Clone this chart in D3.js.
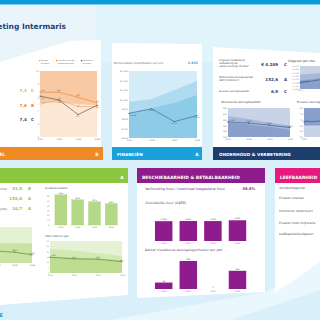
<!DOCTYPE html>
<html>
<head>
<meta charset="utf-8">
<script src="https://cdn.jsdelivr.net/npm/d3@7"></script>
<style>
    html, body { margin: 0; padding: 0; background: #d9eff9; overflow: hidden; }
</style>
</head>
<body>
<div id="chart"></div>
<script>
const years = ["2021", "2022", "2023", "2024"];

// huurdersoordeel
const hoNieuwe = [7.5, 7.8, 7.3, 7.3];
const hoReparatie = [8.4, 8.4, 8.0, 7.6];
const hoVertrokken = [8.1, 7.8, 6.7, 7.4];
const hoBand = [7.6, 7.6, 7.5, 7.4];
const hoScores = ["7,3", "7,6", "7,4"];
const hoLetters = ["C", "B", "C"];
const hoLegend = [["Nieuwe", "huurders"], ["Huurders met een", "reparatieverzoek"], ["Vertrokken", "huurders"]];
const hoTicks = [5, 6, 7, 8, 9, 10];

// financien
const finLasten = [858, 905, 771, 835];
const finBandHigh = [976, 1007, 1101, 1195];
const finBandLow = [861, 913, 966, 1049];
const finTicks = [600, 700, 800, 900, 1000, 1100, 1200, 1300];

// onderhoud & verbetering
const ovUitgaven = [1950, 2500, 3300, 4209];
const ovUitgHigh = [3200, 3500, 3800, 4100];
const ovUitgLow = [2300, 2700, 3100, 3600];
const ovUitgTicks = [1000, 1500, 2000, 2500, 3000, 3500, 4000, 4500];
const ovTech = [172, 168, 161, 152.6];
const ovTechHigh = [192, 182, 170, 160];
const ovTechLow = [170, 163, 155, 145];
const ovTechTicks = [120, 140, 160, 180, 200, 220];
const ovErvaren = [6.8, 6.9, 7.0, 6.9];
const ovErvBand = [6.5, 6.5, 6.6, 6.6];
const ovErvTicks = [5.5, 6, 6.5, 7, 7.5, 8];
const ovKpiLabels = [["Uitgaven onderhoud,", "verbetering en", "verduurzaming (€/vhe)*"], ["Technische woningkwaliteit", "(EPV) [kWh/m2]"], ["Ervaren woningkwaliteit"]];
const ovScores = ["€ 4.209", "152,6", "6,9"];
const ovLetters = ["C", "A", "C"];

// duurzaamheid
const duKpiLabels = ["Isolatieprestatie [kWh/m2]", "Energieprestatie [kWh/m2]", "CO2-uitstoot gas [kg/m2]"];
const duScores = ["31,9", "152,6", "10,7"];
const duLetters = ["B", "A", "A"];
const duEpv = [167, 163, 160, 152.6];
const duEpvBand = [188, 186, 185, 184];
const duIsolatie = [62.4, 52.1, 47.9, 44.3];
const duIsoTicks = [0, 10, 20, 30, 40, 50, 60];
const duCo2 = [14.8, 13.3, 12.9, 10.7];
const duCo2High = [22.5, 21, 18.5, 16];
const duCo2Low = [15.5, 14.5, 13.5, 12];
const duCo2Ticks = [0, 5, 10, 15, 20, 25, 30];

// beschikbaarheid & betaalbaarheid
const bbHuur = [576, 580, 579, 602];
const bbNieuwbouw = [58, 252, 0, 164];

// leefbaarheid
const lbItems = ["Veiligheidsgevoel", "Ervaren overlast", "Schone en nette buurt", "Ervaren inzet corporatie", "Leefbaarheidsuitgaven"];

const F = "DejaVu Sans, Verdana, sans-serif";
const nl = d3.formatLocale({decimal: ",", thousands: ".", grouping: [3], currency: ["€ ", ""]});
const fmt1 = nl.format(",.1f");
const fmtEur = nl.format("$,.0f");
const fmtInt = nl.format(",.0f");

const svg = d3.select("#chart").append("svg")
    .attr("width", 320)
    .attr("height", 320)
    .attr("font-family", F);

const txt = (x, y, s, o = {}) => svg.append("text")
    .attr("x", x).attr("y", y)
    .attr("font-size", o.fs || 3)
    .attr("fill", o.fill || "#555")
    .attr("font-weight", o.bold ? "bold" : null)
    .attr("text-anchor", o.anchor || "start")
    .text(s);

const poly = (pts, fill) => svg.append("polygon")
    .attr("points", pts.map((p) => p.join(",")).join(" "))
    .attr("fill", fill);

const styleAxis = (a, fs) => {
    a.select(".domain").remove();
    a.attr("font-family", F);
    a.selectAll("text").attr("font-size", fs).attr("fill", "#777");
};

const bandChart = (o) => {
    const g = svg.append("g");
    const x = d3.scalePoint().domain(years).range([o.x0, o.x1]);
    const y = d3.scaleLinear().domain(o.domain).range([o.y1, o.y0]);
    const xi = (d, i) => x(years[i]);
    o.bands.forEach((b) => {
        g.append("path").datum(b.values)
            .attr("fill", b.color)
            .attr("d", d3.area().x(xi).y0(o.y1).y1((d) => y(d)));
    });
    const fs = o.fs || 2.1;
    const ya = g.append("g")
        .attr("transform", `translate(${o.x0 - 1},0)`)
        .call(d3.axisLeft(y).tickValues(o.ticks).tickFormat(o.tickFmt).tickSize(0).tickPadding(0));
    styleAxis(ya, fs);
    const xa = g.append("g")
        .attr("transform", `translate(0,${o.y1})`)
        .call(d3.axisBottom(x).tickSize(0).tickPadding(1.2));
    styleAxis(xa, fs);
    o.lines.forEach((l) => {
        g.append("path").datum(l.values)
            .attr("fill", "none")
            .attr("stroke", l.color)
            .attr("stroke-width", 0.6)
            .attr("d", d3.line().x(xi).y((d) => y(d)));
        g.selectAll(null).data(l.values).join("circle")
            .attr("cx", xi).attr("cy", (d) => y(d)).attr("r", 0.6).attr("fill", l.color);
        if (l.fmt) {
            // first label is nudged inwards so it stays off the tick labels
            g.selectAll(null).data(l.values).join("text")
                .attr("x", (d, i) => xi(d, i) + (i === 0 ? 1.5 : 0))
                .attr("y", (d) => y(d) + (l.dy || -1))
                .attr("text-anchor", (d, i) => i === 0 ? "start" : "middle")
                .attr("font-size", 1.9)
                .attr("fill", "#444")
                .text(l.fmt);
        }
    });
    return g;
};

const barChart = (o) => {
    const g = svg.append("g");
    const x = d3.scaleBand().domain(years).range([o.x0, o.x1]).paddingInner(o.pad).paddingOuter(o.pad / 2);
    const y = d3.scaleLinear().domain(o.domain).range([o.y1, o.y0]);
    g.selectAll(null).data(o.values).join("rect")
        .attr("x", (d, i) => x(years[i]))
        .attr("y", (d) => y(d))
        .attr("width", x.bandwidth())
        .attr("height", (d) => o.y1 - y(d))
        .attr("fill", o.color)
        .attr("stroke", o.stroke || "none")
        .attr("stroke-width", 0.3);
    g.selectAll(null).data(o.values).join("text")
        .attr("x", (d, i) => x(years[i]) + x.bandwidth() / 2)
        .attr("y", (d) => y(d) - 0.9)
        .attr("text-anchor", "middle")
        .attr("font-size", 2)
        .attr("fill", "#444")
        .text(o.fmt);
    const xa = g.append("g")
        .attr("transform", `translate(0,${o.y1})`)
        .call(d3.axisBottom(x).tickSize(0).tickPadding(1.4));
    styleAxis(xa, 2);
    if (o.ticks) {
        const ya = g.append("g")
            .attr("transform", `translate(${o.x0 - 3},0)`)
            .call(d3.axisLeft(y).tickValues(o.ticks).tickFormat(d3.format("d")).tickSize(0).tickPadding(0));
        styleAxis(ya, 1.9);
    }
    return g;
};

// ---- background ----
svg.append("rect").attr("width", 320).attr("height", 320).attr("fill", "#d9eff9");
poly([[0, 5], [320, 5], [320, 62], [0, 62]], "#e1f3fb");
poly([[0, 5], [96, 5], [96, 40], [0, 62]], "#eaf5fb");
poly([[110, 320], [265, 292], [320, 262], [320, 290], [230, 320]], "#eaf7fc");
svg.append("rect").attr("width", 320).attr("height", 4).attr("fill", "#0a9bd8");
svg.append("rect").attr("y", 4).attr("width", 320).attr("height", 1).attr("fill", "#7ccdf0");
txt(66, 29, "Prestatiemeting Intermaris", {fs: 7.5, bold: true, fill: "#1f4275", anchor: "end"});
txt(3, 317, "RE", {fs: 5, bold: true, fill: "#1a9ad6", anchor: "end"});

// ---- huurdersoordeel ----
poly([[0, 62], [70, 41], [101, 40], [101, 147], [0, 147]], "#fff");
svg.append("rect").attr("x", 0).attr("y", 147).attr("width", 103).attr("height", 13).attr("fill", "#f08a24");
txt(5, 156, "HUURDERSOORDEEL", {fs: 4.4, bold: true, fill: "#fff", anchor: "end"});
txt(97, 156, "B", {fs: 4.4, bold: true, fill: "#fff", anchor: "middle"});
const hoColors = ["#eea46a", "#ef7d22", "#514640"];
hoScores.forEach((s, i) => {
    txt(27, 92 + i * 14.6, s, {fs: 4.2, bold: true, fill: hoColors[i], anchor: "end"});
    txt(31, 92 + i * 14.6, hoLetters[i], {fs: 4.2, bold: true, fill: hoColors[i]});
});
hoLegend.forEach((lines, i) => {
    const lx = [39, 56, 81][i];
    svg.append("rect").attr("x", lx).attr("y", 60).attr("width", 1.2).attr("height", 1.2).attr("fill", hoColors[i]);
    lines.forEach((t, j) => txt(lx + 1.8, 61.4 + j * 2.4, t, {fs: 1.9, fill: "#666"}));
});
bandChart({
    x0: 40, x1: 97, y0: 71, y1: 137, domain: [5, 10], ticks: hoTicks, tickFmt: d3.format("d"),
    bands: [{values: [10, 10, 10, 10], color: "#f9c9a3"}, {values: hoBand, color: "#fde7d5"}],
    lines: [
        {values: hoNieuwe, color: hoColors[0], fmt: fmt1},
        {values: hoReparatie, color: hoColors[1], fmt: fmt1},
        {values: hoVertrokken, color: hoColors[2], fmt: fmt1, dy: 2.6}
    ]
});

// ---- financien ----
poly([[112, 43], [202, 44], [202, 147], [112, 147]], "#fff");
svg.append("rect").attr("x", 112).attr("y", 147).attr("width", 90).attr("height", 13).attr("fill", "#1aa1dc");
txt(117, 156, "FINANCIËN", {fs: 4.2, bold: true, fill: "#fff"});
txt(197, 156, "A", {fs: 4.4, bold: true, fill: "#fff", anchor: "middle"});
txt(114, 64, "Beïnvloedbare bedrijfslasten per vhe", {fs: 2.7, fill: "#666"});
txt(198, 64, "€ 835", {fs: 3.2, bold: true, fill: "#1aa1dc", anchor: "end"});
bandChart({
    x0: 129, x1: 197, y0: 71, y1: 138, domain: [600, 1300], ticks: finTicks, tickFmt: fmtEur,
    bands: [{values: [1300, 1300, 1300, 1300], color: "#d4edf8"}, {values: finBandHigh, color: "#aedbef"}, {values: finBandLow, color: "#8ecbe7"}],
    lines: [{values: finLasten, color: "#2f5f9e", fmt: fmtEur, dy: 2.6}]
});

// ---- onderhoud & verbetering ----
poly([[213, 47], [320, 53], [320, 147], [213, 147]], "#fff");
svg.append("rect").attr("x", 213).attr("y", 147).attr("width", 107).attr("height", 13).attr("fill", "#1d3e6c");
txt(219, 156, "ONDERHOUD & VERBETERING", {fs: 4.3, bold: true, fill: "#fff"});
const ovRowY = [61, 78, 92.3];
ovKpiLabels.forEach((lines, i) => {
    lines.forEach((t, j) => txt(219, ovRowY[i] + j * 2.8, t, {fs: 2.5, fill: "#444"}));
    const vy = ovRowY[i] + (lines.length - 1) * 2.8 * 0.8 + 0.4;
    txt(278, vy, ovScores[i], {fs: 4, bold: true, fill: "#1d3e6c", anchor: "end"});
    txt(284, vy, ovLetters[i], {fs: 4, bold: true, fill: "#1d3e6c"});
});
txt(288, 62, "Uitgaven per vhe", {fs: 3.1, fill: "#444"});
bandChart({
    x0: 300, x1: 372, y0: 66, y1: 89, domain: [1000, 4500], ticks: ovUitgTicks, tickFmt: fmtEur, fs: 1.8,
    bands: [{values: [4500, 4500, 4500, 4500], color: "#c8d3e7"}, {values: ovUitgHigh, color: "#a8b9d8"}, {values: ovUitgLow, color: "#8aa0cb"}],
    lines: [{values: ovUitgaven, color: "#2c4f8a", fmt: fmtEur}]
});
txt(221, 103, "Technische woningkwaliteit", {fs: 2.9, fill: "#444"});
bandChart({
    x0: 228, x1: 290, y0: 108, y1: 137, domain: [120, 220], ticks: ovTechTicks, tickFmt: d3.format("d"),
    bands: [{values: [220, 220, 220, 220], color: "#c8d3e7"}, {values: ovTechHigh, color: "#a8b9d8"}, {values: ovTechLow, color: "#8aa0cb"}],
    lines: [{values: ovTech, color: "#2c4f8a", fmt: fmt1}]
});
txt(297, 103, "Ervaren woningkwaliteit", {fs: 2.9, fill: "#444"});
bandChart({
    x0: 304, x1: 368, y0: 108, y1: 137, domain: [5.5, 8], ticks: ovErvTicks, tickFmt: fmt1,
    bands: [{values: [8, 8, 8, 8], color: "#8aa0cb"}, {values: ovErvBand, color: "#c8d3e7"}],
    lines: [{values: ovErvaren, color: "#2c4f8a", fmt: fmt1}]
});

// ---- duurzaamheid ----
poly([[0, 183], [128, 183], [128, 295], [0, 305]], "#fff");
svg.append("rect").attr("x", 0).attr("y", 168).attr("width", 128).attr("height", 15).attr("fill", "#8dc63f");
txt(-2, 178.6, "DUURZAAMHEID", {fs: 4.4, bold: true, fill: "#fff", anchor: "end"});
txt(122, 178.6, "A", {fs: 4.4, bold: true, fill: "#fff", anchor: "middle"});
const duRowY = [190, 199.5, 209.5];
const duLabelEnd = [7, -1, 7];
duKpiLabels.forEach((t, i) => {
    txt(duLabelEnd[i], duRowY[i], t, {fs: 2.8, fill: "#555", anchor: "end"});
    txt(22, duRowY[i], duScores[i], {fs: 4, bold: true, fill: "#8dc63f", anchor: "end"});
    txt(28, duRowY[i], duLetters[i], {fs: 4, bold: true, fill: "#8dc63f"});
});
bandChart({
    x0: -20, x1: 32, y0: 227, y1: 263, domain: [130, 230], ticks: [], tickFmt: fmt1,
    bands: [{values: [230, 230, 230, 230], color: "#e4f1d2"}, {values: duEpvBand, color: "#c9e3a3"}],
    lines: [{values: duEpv, color: "#4f7d28", fmt: fmt1}]
});
txt(45, 189, "Isolatieprestatie", {fs: 2.8, fill: "#3d5a80"});
barChart({
    x0: 52.5, x1: 119.7, pad: 0.29, y0: 196, y1: 225, domain: [0, 60],
    values: duIsolatie, ticks: duIsoTicks, color: "#b5d886", stroke: "#9cc65c", fmt: fmt1
});
txt(45, 236.5, "CO2-uitstoot gas", {fs: 2.8, fill: "#3d5a80"});
bandChart({
    x0: 50, x1: 122, y0: 241, y1: 273, domain: [0, 30], ticks: duCo2Ticks, tickFmt: d3.format("d"), fs: 1.9,
    bands: [{values: [30, 30, 30, 30], color: "#e6f2d6"}, {values: duCo2High, color: "#d3e9b4"}, {values: duCo2Low, color: "#bfdd90"}],
    lines: [{values: duCo2, color: "#4f7d28", fmt: fmt1}]
});

// ---- beschikbaarheid & betaalbaarheid ----
poly([[137, 183], [265, 183], [265, 292], [137, 298]], "#fff");
svg.append("rect").attr("x", 137).attr("y", 168).attr("width", 128).attr("height", 15).attr("fill", "#8f1c8c");
txt(142, 178.6, "BESCHIKBAARHEID & BETAALBAARHEID", {fs: 4.4, bold: true, fill: "#fff"});
txt(145, 189.5, "Verhouding huur / maximaal toegestane huur", {fs: 3.5, fill: "#6b4d7d"});
txt(255, 189.5, "59,9%", {fs: 3.6, bold: true, fill: "#8f1c8c", anchor: "end"});
txt(145, 203.5, "Gemiddelde huur (DAEB)", {fs: 3.3, fill: "#6b4d7d"});
barChart({
    x0: 151.4, x1: 249.8, pad: 0.29, y0: 220, y1: 241, domain: [0, 610],
    values: bbHuur, color: "#8f1c8c", fmt: fmtEur
});
txt(145, 251, "Aantal nieuwbouw woongelegenheden per jaar", {fs: 3.3, fill: "#6b4d7d"});
barChart({
    x0: 151.4, x1: 249.8, pad: 0.29, y0: 261, y1: 289, domain: [0, 252],
    values: bbNieuwbouw, color: "#8f1c8c", fmt: fmtInt
});

// ---- leefbaarheid ----
poly([[275, 183], [320, 183], [320, 262], [275, 293]], "#fff");
svg.append("rect").attr("x", 275).attr("y", 168).attr("width", 45).attr("height", 15).attr("fill", "#e5197e");
txt(280, 178.6, "LEEFBAARHEID", {fs: 4.4, bold: true, fill: "#fff"});
const lbY = [188.5, 199, 212, 223.5, 234.5];
lbItems.forEach((t, i) => txt(279, lbY[i], t, {fs: 3, fill: "#555"}));
</script>
</body>
</html>
